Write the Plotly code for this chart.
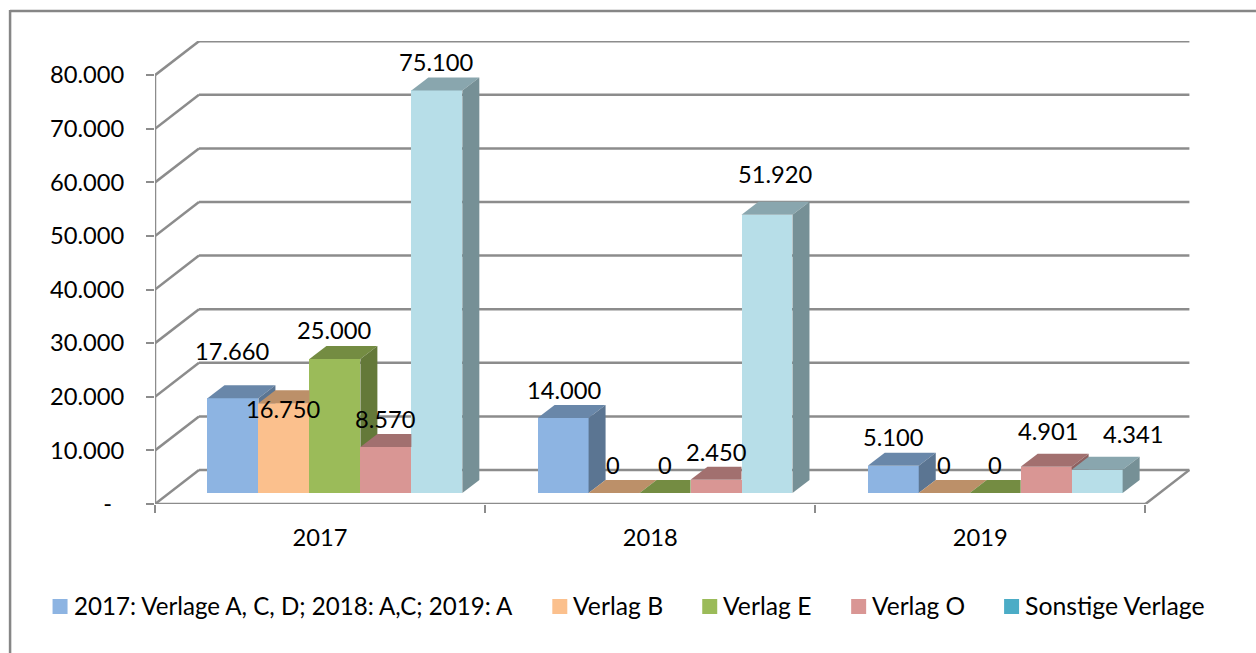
import plotly.graph_objects as go

# ---------- data ----------
CATEGORIES = ["2017", "2018", "2019"]
SERIES_NAMES = ["2017: Verlage A, C, D; 2018: A,C; 2019: A", "Verlag B", "Verlag E", "Verlag O", "Sonstige Verlage"]
VERLAGE_ACD = [17660, 14000, 5100]
VERLAG_B = [16750, 0, 0]
VERLAG_E = [25000, 0, 0]
VERLAG_O = [8570, 2450, 4901]
SONSTIGE = [75100, 51920, 4341]
Y_TICKS = [0, 10000, 20000, 30000, 40000, 50000, 60000, 70000, 80000]

# ---------- styling / layout ----------
ALL_SERIES = [VERLAGE_ACD, VERLAG_B, VERLAG_E, VERLAG_O, SONSTIGE]
FRONT = ["#8DB4E2", "#FBC08D", "#9BBB59", "#D99694", "#B7DEE8"]
LEGEND_COL = ["#8DB4E2", "#FBC08D", "#9BBB59", "#D99694", "#4BACC6"]
GRID = "#8C8C8C"
FONT = "Lato"
FS = 23.7
LEGEND_FS = [24.1, 24.7, 24.7, 24.5, 24.8]

L, R, T, B = 154.5, 1190.0, 41.0, 504.0   # plot box in page pixels
CAT_PX = 330.3
Y_PX = 53.6 / 10000

def xu(px):
    return px / CAT_PX

def yu(px):
    return px / Y_PX

XMAX = xu(R - L)
YMAX = yu(B - T)
WALL_X, WALL_Y = xu(44), yu(34)       # depth of the floor
BAR_X, BAR_Y = xu(17), yu(13)         # depth of a bar
BASE = yu(11)                         # bars stand a little inside the floor
BAR_W = xu(51)
GROUP_START = xu(52.5)

# label offsets in pixels (series x category), relative to bar top / bar centre
LABEL_DX = [[0, 1, 0], [0, -1, 0], [0, 0, 0], [0, 0, 2], [0, 8, 36]]
LABEL_DY = [[47, 28, 29], [-6, 28, 28], [29, 28, 28], [28, 28, 36], [28, 41, 36]]

def fmt(v):
    return f"{v:,}".replace(",", ".")

def shade(hex_col, f):
    r, g, b = (int(hex_col[i:i + 2], 16) for i in (1, 3, 5))
    return f"rgb({int(r * f)},{int(g * f)},{int(b * f)})"

def clip_y(poly, ymin):
    """Keep the part of a polygon at or above ymin."""
    out = []
    for i, (x0, y0) in enumerate(poly):
        x1, y1 = poly[(i + 1) % len(poly)]
        if y0 >= ymin:
            out.append((x0, y0))
        if (y0 >= ymin) != (y1 >= ymin):
            t = (ymin - y0) / (y1 - y0)
            out.append((x0 + t * (x1 - x0), ymin))
    return out

fig = go.Figure()

# front faces
for s, vals in enumerate(ALL_SERIES):
    fig.add_trace(go.Bar(
        x=[c + GROUP_START + BAR_W * (s + 0.5) for c in range(len(CATEGORIES))],
        y=vals, base=BASE, width=BAR_W, name=SERIES_NAMES[s],
        marker=dict(color=FRONT[s], line=dict(width=0)), showlegend=False,
        hoverinfo="y",
    ))

def face(poly, color):
    if len(poly) < 3:
        return
    xs = [p[0] for p in poly] + [poly[0][0]]
    ys = [p[1] for p in poly] + [poly[0][1]]
    fig.add_trace(go.Scatter(x=xs, y=ys, mode="lines", fill="toself", fillcolor=color,
                             line=dict(width=0, color=color), showlegend=False, hoverinfo="skip"))

# top and side faces, painted left to right
for c in range(len(CATEGORIES)):
    for s, vals in enumerate(ALL_SERIES):
        xl = c + GROUP_START + BAR_W * s
        xr = xl + BAR_W
        top = BASE + vals[c]
        nxt = BASE + ALL_SERIES[s + 1][c] if s + 1 < len(ALL_SERIES) else None
        # top face, cut off by a taller neighbour
        if nxt is not None and nxt > top:
            poly = [(xl, top), (xr, top), (xr, top + BAR_Y), (xl + BAR_X, top + BAR_Y)]
        else:
            poly = [(xl, top), (xr, top), (xr + BAR_X, top + BAR_Y), (xl + BAR_X, top + BAR_Y)]
        face(poly, shade(FRONT[s], 0.75))
        # side face, only what shows above the neighbour
        if vals[c] > 0:
            side = [(xr, BASE), (xr + BAR_X, BASE + BAR_Y), (xr + BAR_X, top + BAR_Y), (xr, top)]
            if nxt is not None:
                side = clip_y(side, nxt)
            face(side, shade(FRONT[s], 0.65))

# walls, floor and gridlines
shapes = []
def seg(x0, y0, x1, y1):
    shapes.append(dict(type="line", xref="x", yref="y", x0=x0, y0=y0, x1=x1, y1=y1,
                       layer="below", line=dict(color=GRID, width=2.5)))

n = len(CATEGORIES)
for v in Y_TICKS:
    seg(0, v, WALL_X, v + WALL_Y)
    seg(WALL_X, v + WALL_Y, n + WALL_X, v + WALL_Y)
seg(0, 0, 0, Y_TICKS[-1])
seg(0, 0, n, 0)
seg(n, 0, n + WALL_X, WALL_Y)

# page frame and hand-set legend (paper coordinates derived from page pixels)
def px(p):
    return (p - L) / (R - L)

def py(p):
    return (B - p) / (B - T)

shapes.append(dict(type="line", xref="paper", yref="paper", x0=px(9.5), x1=px(1256), y0=py(11), y1=py(11),
                   line=dict(color="#868686", width=2.5)))
shapes.append(dict(type="line", xref="paper", yref="paper", x0=px(9.5), x1=px(9.5), y0=py(10), y1=py(653),
                   line=dict(color="#868686", width=2.5)))

LEGEND_SWATCH_X = [52, 552, 702, 851, 1004]
annotations = []
for s, name in enumerate(SERIES_NAMES):
    x0 = LEGEND_SWATCH_X[s]
    shapes.append(dict(type="rect", xref="paper", yref="paper", x0=px(x0), x1=px(x0 + 15),
                       y0=py(599), y1=py(614), fillcolor=LEGEND_COL[s], line=dict(width=0)))
    annotations.append(dict(text=name, xref="paper", yref="paper", x=px(x0 + 19), y=py(605),
                            xanchor="left", yanchor="middle", showarrow=False,
                            font=dict(family=FONT, size=LEGEND_FS[s], color="#000000")))

# data labels
for s, vals in enumerate(ALL_SERIES):
    for c, v in enumerate(vals):
        annotations.append(dict(
            text=fmt(v) if v else "0", xref="x", yref="y",
            x=c + GROUP_START + BAR_W * (s + 0.5), y=BASE + v,
            xshift=LABEL_DX[s][c], yshift=LABEL_DY[s][c],
            xanchor="center", yanchor="middle", showarrow=False,
            font=dict(family=FONT, size=FS, color="#000000")))

fig.update_layout(
    width=1256, height=653, autosize=False,
    margin=dict(l=L, r=1256 - R, t=T, b=653 - B, pad=0),
    paper_bgcolor="white", plot_bgcolor="rgba(0,0,0,0)",
    barmode="overlay", bargap=0, showlegend=False,
    font=dict(family=FONT, size=FS, color="#000000"),
    shapes=shapes, annotations=annotations,
    xaxis=dict(range=[0, XMAX], showgrid=False, zeroline=False, showline=False,
               tickmode="array", tickvals=[i + 0.5 for i in range(n)], ticktext=CATEGORIES,
               ticks="", ticklabelstandoff=17,
               tickfont=dict(family=FONT, size=FS, color="#000000"),
               minor=dict(tickmode="array", tickvals=list(range(n + 1)), ticks="outside", ticklen=8,
                          tickwidth=2, tickcolor=GRID, showgrid=False)),
    yaxis=dict(range=[0, YMAX], showgrid=False, zeroline=False, showline=False,
               tickmode="array", tickvals=Y_TICKS,
               ticktext=[fmt(v) if v else "-\u00a0\u00a0" for v in Y_TICKS],
               ticks="outside", ticklen=8, tickwidth=2, tickcolor=GRID, ticklabelstandoff=17,
               tickfont=dict(family=FONT, size=FS, color="#000000")),
)

fig.write_html("out.html", config=dict(displayModeBar=False),
               post_script="document.body.style.margin='0';document.body.style.overflow='hidden';")
